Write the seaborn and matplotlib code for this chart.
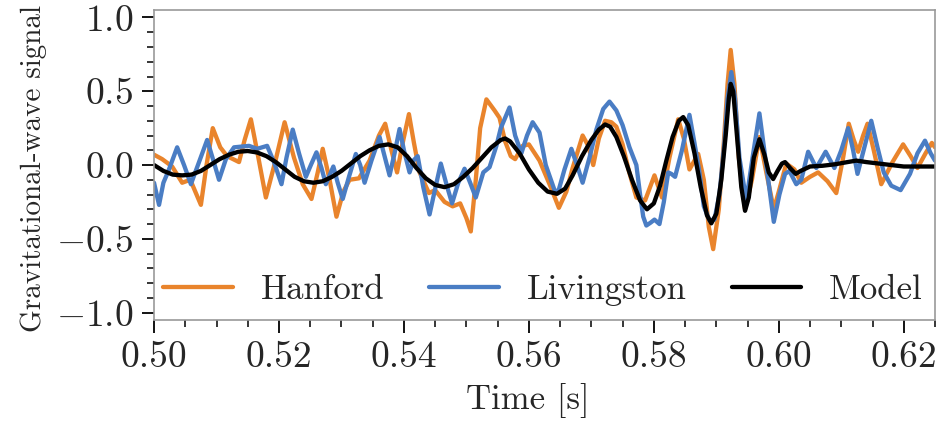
import matplotlib
matplotlib.use("Agg")
import matplotlib.pyplot as plt
import seaborn as sns
import pandas as pd
from matplotlib.ticker import MultipleLocator

# ---- data (time [s], signal) ----
hanford = [
    (0.5000, 0.07), (0.5013, 0.04), (0.5029, -0.01), (0.5045, -0.12), (0.5058, -0.10),
    (0.5075, -0.27), (0.5084, 0.00), (0.5094, 0.25), (0.5106, 0.12), (0.5117, 0.06),
    (0.5136, 0.02), (0.5145, 0.17), (0.5155, 0.31), (0.5167, 0.05), (0.5179, -0.22),
    (0.5195, 0.04), (0.5209, 0.29), (0.5224, 0.05), (0.5238, -0.13), (0.5252, -0.23),
    (0.5262, -0.05), (0.5270, 0.11), (0.5281, -0.10), (0.5292, -0.35), (0.5303, -0.18),
    (0.5313, -0.10), (0.5328, -0.09), (0.5345, 0.03), (0.5360, 0.20), (0.5370, 0.28),
    (0.5380, 0.10), (0.5389, -0.05), (0.5398, 0.15), (0.5408, 0.345), (0.5416, 0.15),
    (0.5425, -0.05), (0.5440, -0.19), (0.5450, -0.17), (0.5465, -0.25), (0.5478, -0.28),
    (0.5490, -0.26), (0.5500, -0.36), (0.5507, -0.45), (0.5515, -0.10), (0.5522, 0.25),
    (0.5532, 0.445), (0.5545, 0.37), (0.5553, 0.32), (0.5562, 0.16), (0.5571, 0.06),
    (0.5578, 0.04), (0.5590, 0.13), (0.5600, 0.14), (0.5617, 0.03), (0.5635, -0.15),
    (0.5648, -0.29), (0.5660, -0.18), (0.5670, -0.02), (0.5686, 0.20), (0.5695, 0.13),
    (0.5703, 0.00), (0.5712, 0.18), (0.5722, 0.30), (0.5732, 0.29), (0.5740, 0.26),
    (0.5750, 0.14), (0.5760, -0.04), (0.5772, -0.22), (0.5786, -0.24), (0.5801, -0.07),
    (0.5813, -0.22), (0.5825, 0.05), (0.5839, 0.31), (0.5848, 0.18), (0.5857, -0.03),
    (0.5871, 0.075), (0.5880, -0.10), (0.5888, -0.42), (0.5895, -0.57), (0.5904, -0.30),
    (0.5912, 0.15), (0.5918, 0.55), (0.5923, 0.78), (0.5929, 0.55), (0.5936, 0.05),
    (0.5946, -0.30), (0.5957, -0.10), (0.5969, 0.19), (0.5980, -0.05), (0.5992, -0.30),
    (0.6000, -0.18), (0.6012, 0.01), (0.6025, -0.03), (0.6036, -0.12), (0.6050, -0.08),
    (0.6063, -0.05), (0.6078, -0.11), (0.6092, -0.19), (0.6103, 0.05), (0.6112, 0.28),
    (0.6120, 0.17), (0.6127, 0.09), (0.6135, 0.20), (0.6142, 0.28), (0.6152, 0.10),
    (0.6164, -0.13), (0.6182, 0.02), (0.6199, 0.14), (0.6211, 0.06), (0.6222, -0.02),
    (0.6235, 0.08), (0.6245, 0.15), (0.6250, 0.12),
]

livingston = [
    (0.5000, -0.12), (0.5008, -0.27), (0.5015, -0.12), (0.5023, -0.04), (0.5037, 0.12),
    (0.5048, 0.00), (0.5059, -0.13), (0.5072, 0.02), (0.5085, 0.17), (0.5095, 0.03),
    (0.5104, -0.10), (0.5115, 0.04), (0.5128, 0.12), (0.5152, 0.13), (0.5165, 0.11),
    (0.5181, 0.13), (0.5192, 0.02), (0.5204, -0.13), (0.5212, 0.05), (0.5222, 0.24),
    (0.5232, 0.08), (0.5243, -0.08), (0.5251, 0.00), (0.5260, 0.086), (0.5268, -0.02),
    (0.5275, -0.13), (0.5282, -0.06), (0.5287, -0.01), (0.5294, -0.12), (0.5302, -0.23),
    (0.5312, -0.08), (0.5323, 0.075), (0.5330, 0.00), (0.5337, -0.12), (0.5348, 0.03),
    (0.5361, 0.19), (0.5369, 0.06), (0.5377, -0.07), (0.5385, 0.08), (0.5393, 0.244),
    (0.5400, 0.10), (0.5409, -0.05), (0.5415, 0.03), (0.5422, 0.06), (0.5431, -0.15),
    (0.5441, -0.335), (0.5450, -0.16), (0.5459, 0.01), (0.5468, -0.13), (0.5477, -0.26),
    (0.5487, -0.12), (0.5497, -0.025), (0.5506, -0.12), (0.5515, -0.22), (0.5527, -0.05),
    (0.5537, -0.015), (0.5548, 0.13), (0.5555, 0.25), (0.5569, 0.39), (0.5578, 0.20),
    (0.5588, 0.08), (0.5597, 0.20), (0.5606, 0.29), (0.5617, 0.22), (0.5627, 0.00),
    (0.5641, -0.17), (0.5647, -0.18), (0.5657, -0.03), (0.5668, 0.11), (0.5677, 0.00),
    (0.5686, -0.12), (0.5697, 0.05), (0.5708, 0.24), (0.5719, 0.38), (0.5729, 0.43),
    (0.5740, 0.37), (0.5750, 0.27), (0.5761, 0.12), (0.5772, 0.00), (0.5778, -0.20),
    (0.5783, -0.35), (0.5788, -0.41), (0.5795, -0.39), (0.5801, -0.37), (0.5809, -0.40),
    (0.5816, -0.25), (0.5823, -0.05), (0.5828, -0.06), (0.5834, -0.08), (0.5845, 0.10),
    (0.5857, 0.34), (0.5865, 0.15), (0.5873, -0.05), (0.5880, -0.28), (0.5889, -0.375),
    (0.5897, -0.37), (0.5905, -0.20), (0.5913, 0.15), (0.5918, 0.45), (0.5924, 0.63),
    (0.5930, 0.45), (0.5937, 0.05), (0.5948, -0.24), (0.5958, 0.05), (0.5969, 0.35),
    (0.5980, 0.00), (0.5992, -0.385), (0.6001, -0.20), (0.6010, -0.06), (0.6017, -0.04),
    (0.6028, -0.13), (0.6036, -0.10), (0.6047, 0.09), (0.6060, -0.02), (0.6075, 0.09),
    (0.6089, -0.02), (0.6100, 0.10), (0.6111, 0.25), (0.6119, 0.10), (0.6126, -0.06),
    (0.6137, 0.12), (0.6148, 0.30), (0.6158, 0.12), (0.6168, -0.05), (0.6180, -0.14),
    (0.6195, -0.17), (0.6210, -0.06), (0.6222, 0.08), (0.6234, 0.165), (0.6243, 0.08),
    (0.6250, 0.03),
]

model = [
    (0.5000, 0.00), (0.5015, -0.04), (0.5030, -0.065), (0.5045, -0.07), (0.5060, -0.065),
    (0.5075, -0.04), (0.5090, 0.00), (0.5105, 0.04), (0.5120, 0.07), (0.5135, 0.09),
    (0.5150, 0.095), (0.5165, 0.085), (0.5180, 0.06), (0.5195, 0.02), (0.5210, -0.03),
    (0.5225, -0.08), (0.5240, -0.11), (0.5255, -0.12), (0.5270, -0.11), (0.5285, -0.08),
    (0.5300, -0.04), (0.5315, 0.01), (0.5330, 0.06), (0.5345, 0.10), (0.5360, 0.13),
    (0.5375, 0.14), (0.5390, 0.12), (0.5405, 0.06), (0.5420, -0.02), (0.5435, -0.09),
    (0.5450, -0.135), (0.5465, -0.15), (0.5480, -0.13), (0.5495, -0.08), (0.5510, -0.02),
    (0.5525, 0.05), (0.5540, 0.12), (0.5555, 0.17), (0.5562, 0.18), (0.5570, 0.16),
    (0.5585, 0.08), (0.5600, -0.03), (0.5615, -0.12), (0.5630, -0.18), (0.5645, -0.195),
    (0.5658, -0.16), (0.5670, -0.07), (0.5685, 0.06), (0.5700, 0.17), (0.5712, 0.24),
    (0.5722, 0.275), (0.5730, 0.26), (0.5740, 0.19), (0.5752, 0.06), (0.5765, -0.10),
    (0.5778, -0.24), (0.5789, -0.30), (0.5800, -0.26), (0.5810, -0.14), (0.5820, 0.03),
    (0.5830, 0.19), (0.5840, 0.30), (0.5847, 0.325), (0.5855, 0.27), (0.5865, 0.08),
    (0.5875, -0.15), (0.5885, -0.34), (0.5892, -0.395), (0.5900, -0.33), (0.5908, -0.10),
    (0.5915, 0.20), (0.5920, 0.45), (0.5923, 0.55), (0.5927, 0.50), (0.5933, 0.20),
    (0.5940, -0.15), (0.5946, -0.31), (0.5952, -0.22), (0.5960, 0.05), (0.5969, 0.175),
    (0.5977, 0.07), (0.5984, -0.05), (0.5991, -0.095), (0.5998, -0.04), (0.6005, 0.01),
    (0.6010, 0.02), (0.6018, -0.02), (0.6027, -0.06), (0.6035, -0.04), (0.6050, -0.01),
    (0.6070, -0.005), (0.6090, 0.005), (0.6110, 0.02), (0.6124, 0.03), (0.6140, 0.02),
    (0.6160, 0.01), (0.6180, 0.0), (0.6200, -0.01), (0.6220, -0.01), (0.6250, -0.01),
]

series_names = ["Hanford", "Livingston", "Model"]
series_colors = ["#e9842c", "#4a7dc4", "#000000"]
x_ticks = [0.50, 0.52, 0.54, 0.56, 0.58, 0.60, 0.62]
y_ticks = [-1.0, -0.5, 0.0, 0.5, 1.0]

sns.set_theme(style="ticks")
plt.rcParams["font.family"] = ["cmr10"]
plt.rcParams["mathtext.fontset"] = "cm"
plt.rcParams["axes.formatter.use_mathtext"] = True
plt.rcParams["axes.unicode_minus"] = True

fig = plt.figure(figsize=(9.41, 4.21), dpi=100)
ax = fig.add_axes([0.1637, 0.240, 0.9936 - 0.1637, 0.976 - 0.240])

for name, data, col in zip(series_names, [hanford, livingston, model], series_colors):
    df = pd.DataFrame(data, columns=["t", "v"])
    sns.lineplot(data=df, x="t", y="v", ax=ax, color=col, linewidth=3.1,
                 label=name, solid_joinstyle="round", solid_capstyle="round")

ax.set_xlim(0.5, 0.625)
ax.set_ylim(-1.05, 1.05)
ax.set_xticks(x_ticks)
ax.set_yticks(y_ticks)
ax.xaxis.set_minor_locator(MultipleLocator(0.005))
ax.yaxis.set_minor_locator(MultipleLocator(0.1))
ax.set_yticklabels([f"${v:.1f}$" for v in y_ticks])
ax.set_xticklabels([f"{v:.2f}" for v in x_ticks])

ax.tick_params(axis="both", which="major", direction="out", length=9, width=1.3,
               labelsize=27, pad=6, color="black")
ax.tick_params(axis="both", which="minor", direction="out", length=5, width=1.1,
               color="black")
for sp in ax.spines.values():
    sp.set_color("0.6")
    sp.set_linewidth(1.2)

ax.set_xlabel("Time [s]", fontsize=25)
ax.xaxis.set_label_coords(0.478, -0.205)
ax.set_ylabel("Gravitational-wave signal", fontsize=21)
ax.yaxis.set_label_coords(-0.137, 0.49)

leg = ax.legend(ncol=3, loc="center", bbox_to_anchor=(0.498, 0.097), frameon=False,
                fontsize=25, handlelength=2.0, columnspacing=1.3, handletextpad=0.8)

fig.savefig("out.png", dpi=100)
